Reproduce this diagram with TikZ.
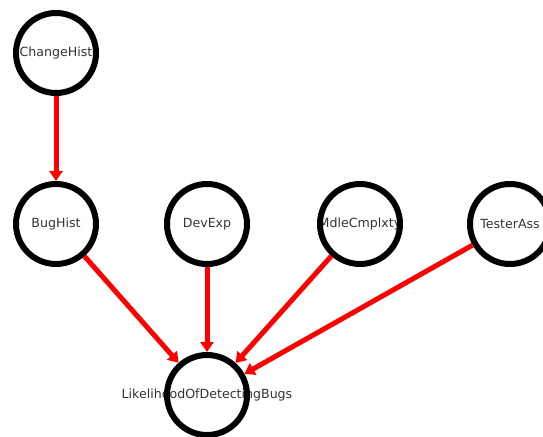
\documentclass[tikz,border=0pt]{standalone}
\usepackage{fontspec}
\setmainfont{DejaVu Sans}
\usetikzlibrary{arrows.meta}
\definecolor{txt}{HTML}{333333}
\tikzset{
  var/.style={circle, draw=black, line width=6bp, minimum size=80bp, inner sep=0pt},
  lbl/.style={text=txt, font=\fontsize{12.6bp}{14bp}\selectfont, inner sep=0pt},
  edge/.style={draw=red, line width=5bp, -{Triangle[length=10bp,width=13bp]}}
}
\begin{document}
\begin{tikzpicture}[x=1bp,y=-1bp]
\useasboundingbox (0,0) rectangle (543,437);
% labels first (circles are drawn over them)
\node[lbl] (tChange) at (56,53) {ChangeHist};
\node[lbl] (tBug) at (56,224) {BugHist};
\node[lbl] (tDev) at (207,224) {DevExp};
\node[lbl] (tMdle) at (360,224) {MdleCmplxty};
\node[lbl] (tTester) at (510,224) {TesterAss};
\node[lbl] (tLik) at (207,395) {LikelihoodOfDetectingBugs};
% circles
\node[var] (change) at (56,53) {};
\node[var] (bug) at (56,224) {};
\node[var] (dev) at (207,224) {};
\node[var] (mdle) at (360,224) {};
\node[var] (tester) at (510,224) {};
\node[var] (lik) at (207,395) {};
% edges
\draw[edge] (change) -- (bug);
\draw[edge] (bug) -- (lik);
\draw[edge] (dev) -- (lik);
\draw[edge] (mdle) -- (lik);
\draw[edge] (tester) -- (lik);
\end{tikzpicture}
\end{document}
